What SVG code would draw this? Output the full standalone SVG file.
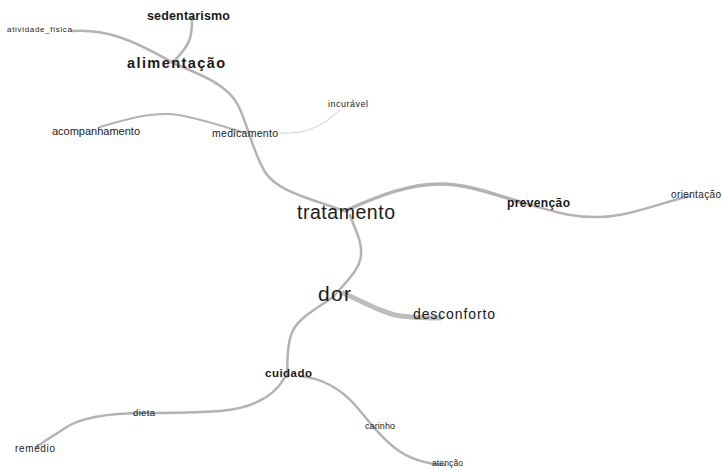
<svg xmlns="http://www.w3.org/2000/svg" width="722" height="470" viewBox="0 0 722 470">
<style>
.e{fill:none;stroke:#b3b3b3;stroke-width:2.5;stroke-linecap:round}
.t{font-family:"Liberation Sans",Arial,sans-serif;fill:#1a1a1a}
.b{font-weight:bold}
</style>
<rect width="722" height="470" fill="#fff"/>
<g id="edges">
<path class="e" d="M192,18 C192,35 192,44 172,63"/>
<path class="e" d="M72,31 C105,29 130,38 175,64"/>
<path class="e" d="M175,64 C205,76 228,86 238,105 C248,125 252,150 265,172 C278,192 310,198 347,212"/>
<path class="e" style="stroke-width:2" d="M100,127 C130,118 150,113 170,114 C195,116 220,126 245,133"/>
<path class="e" style="stroke:#d0d0d0;stroke-width:1" d="M280,133 C305,134 320,128 340,110"/>
<path class="e" style="stroke-width:3.5" d="M347,210 C380,195 410,184 440,184 C470,184 495,195 520,202"/>
<path class="e" d="M520,202 C550,210 570,218 600,217 C630,216 660,203 690,196"/>
<path class="e" d="M350,215 C355,230 362,240 361,255 C360,270 345,283 333,297"/>
<path class="e" d="M333,297 C315,310 297,318 291,335 C286,350 288,365 287,377"/>
<path class="e" style="stroke:#bdbdbd;stroke-width:5" d="M343,293 C360,300 375,310 395,315 C410,318 425,318 440,318"/>
<path class="e" d="M285,377 C275,395 255,408 220,411 C190,413 165,413 145,413 C110,413 80,418 65,428 C52,437 42,442 37,447"/>
<path class="e" d="M300,376 C320,378 340,388 355,405 C370,422 378,435 395,448 C410,460 430,464 445,465"/>
</g>
<g id="sedentarismo"><text class="t b" x="147" y="20" font-size="12.5" textLength="83" lengthAdjust="spacing">sedentarismo</text></g>
<g id="atividade_fisica"><text class="t" x="7" y="32" font-size="8" textLength="65" lengthAdjust="spacing">atividade_fisica</text></g>
<g id="alimentacao"><text class="t b" x="127" y="68" font-size="14.5" textLength="98" lengthAdjust="spacing">alimentação</text></g>
<g id="acompanhamento"><text class="t" x="52" y="135" font-size="11" textLength="88" lengthAdjust="spacing">acompanhamento</text></g>
<g id="medicamento"><text class="t" x="212" y="137" font-size="10.5" textLength="66" lengthAdjust="spacing">medicamento</text></g>
<g id="incuravel"><text class="t" x="328" y="107" font-size="9" textLength="40" lengthAdjust="spacing">incurável</text></g>
<g id="tratamento"><text class="t" x="297" y="219" font-size="19.5" textLength="98" lengthAdjust="spacing">tratamento</text></g>
<g id="prevencao"><text class="t b" x="507" y="207" font-size="12" textLength="63" lengthAdjust="spacing">prevenção</text></g>
<g id="orientacao"><text class="t" x="671" y="198" font-size="10" textLength="50" lengthAdjust="spacing">orientação</text></g>
<g id="dor"><text class="t" x="318" y="301" font-size="21" textLength="33" lengthAdjust="spacing">dor</text></g>
<g id="desconforto"><text class="t" x="413" y="319" font-size="14" textLength="82" lengthAdjust="spacing">desconforto</text></g>
<g id="cuidado"><text class="t b" x="265" y="377" font-size="11.5" textLength="47" lengthAdjust="spacing">cuidado</text></g>
<g id="dieta"><text class="t" x="133" y="416" font-size="9.5" textLength="22" lengthAdjust="spacing">dieta</text></g>
<g id="remedio"><text class="t" x="15" y="452" font-size="10" textLength="40" lengthAdjust="spacing">remédio</text></g>
<g id="carinho"><text class="t" x="365" y="429" font-size="9" textLength="30" lengthAdjust="spacing">carinho</text></g>
<g id="atencao"><text class="t" x="432" y="466" font-size="8.5" textLength="31" lengthAdjust="spacing">atenção</text></g>
</svg>
